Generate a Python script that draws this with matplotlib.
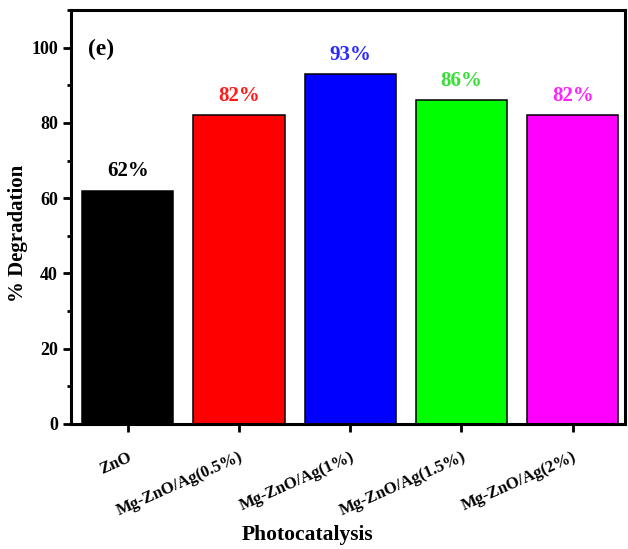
import matplotlib
matplotlib.use("Agg")
import matplotlib.pyplot as plt
from matplotlib.ticker import MultipleLocator

plt.rcParams['font.family'] = ['Liberation Serif', 'DejaVu Serif']
plt.rcParams['font.weight'] = 'bold'

# degradation results for each photocatalyst
samples = ['ZnO', 'Mg-ZnO/Ag(0.5%)', 'Mg-ZnO/Ag(1%)', 'Mg-ZnO/Ag(1.5%)', 'Mg-ZnO/Ag(2%)']
degradation = [62, 82, 93, 86, 82]
bar_colors = ['#000000', '#ff0000', '#0000ff', '#00ff00', '#ff00ff']
text_colors = ['#000000', '#ff1a1a', '#2a2aff', '#33e033', '#ff22ff']

fig = plt.figure(figsize=(6.28, 5.49), dpi=100)
ax = fig.add_axes([71/628, 125/549, 554/628, 414/549])

x = range(len(samples))
ax.bar(x, degradation, width=0.82, color=bar_colors, edgecolor='black', linewidth=1.1)

for xi, v, c in zip(x, degradation, text_colors):
    ax.text(xi, v + 2.5, f"{v}%", ha='center', va='bottom', color=c,
            fontsize=15, fontweight='bold')

ax.set_xlim(-0.51, 4.47)
ax.set_ylim(0, 110)
ax.yaxis.set_major_locator(MultipleLocator(20))
ax.yaxis.set_minor_locator(MultipleLocator(10))
ax.set_yticks([0, 20, 40, 60, 80, 100])

ax.set_xticks(list(x))
ax.set_xticklabels(samples, rotation=24, ha='right', rotation_mode='anchor',
                   fontsize=12, fontweight='bold')
ax.tick_params(axis='x', which='major', length=6, width=2, pad=12)
ax.tick_params(axis='y', which='major', length=6, width=2, labelsize=13)
ax.tick_params(axis='y', which='minor', length=3, width=2)
for lab in ax.get_yticklabels():
    lab.set_fontweight('bold')

for s in ax.spines.values():
    s.set_linewidth(2.2)

ax.set_ylabel('% Degradation', fontsize=15, fontweight='bold')
ax.yaxis.set_label_coords(-0.078, 0.46)
ax.set_xlabel('Photocatalysis', fontsize=15.5, fontweight='bold')
ax.xaxis.set_label_coords((308 - 71) / 554, -0.245)

ax.text(0.03, 0.905, '(e)', transform=ax.transAxes, fontsize=17, fontweight='bold',
        va='center', ha='left')

fig.savefig('out.png', dpi=100)
